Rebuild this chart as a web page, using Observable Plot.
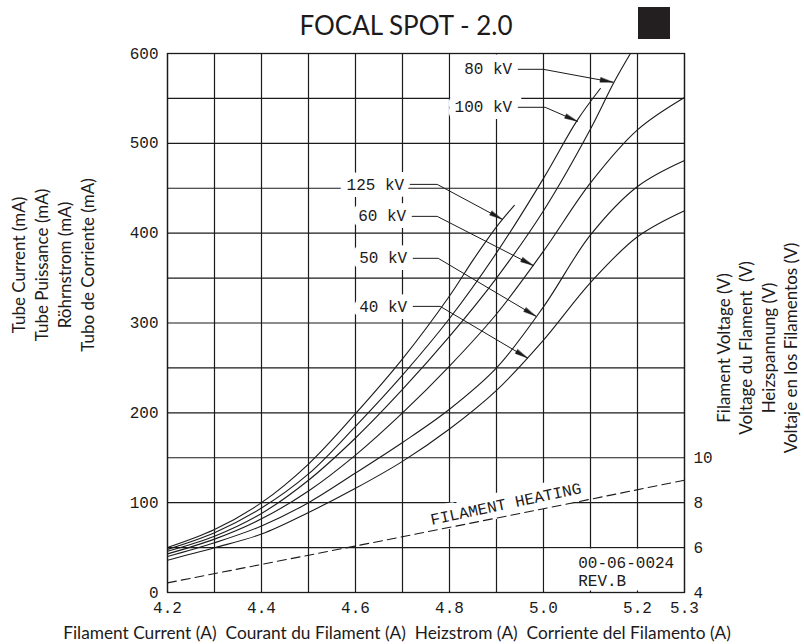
<!DOCTYPE html>
<html><head><meta charset="utf-8">
<script src="https://cdn.jsdelivr.net/npm/d3@7"></script>
<script src="https://cdn.jsdelivr.net/npm/@observablehq/plot@0.6"></script>
<style>
html,body{margin:0;padding:0;background:#fff;}
#wrap{position:relative;width:804px;height:644px;overflow:hidden;}
#wrap svg text{white-space:pre;}
#badge{position:absolute;left:638px;top:7px;width:32px;height:32px;background:#231f20;z-index:2;}
</style></head><body><div id="wrap"><div id="badge"></div></div>
<script>
// ---------- data ----------
const seriesNames = ["125 kV", "100 kV", "80 kV", "60 kV", "50 kV", "40 kV"];
const current125 = [4.2, 4.3, 4.4, 4.5, 4.6, 4.7, 4.8, 4.85, 4.9, 4.938];
const tube125    = [50, 70, 100, 143, 199, 260, 330, 370, 407, 431];
const current100 = [4.2, 4.3, 4.4, 4.5, 4.6, 4.7, 4.8, 4.9, 5.0, 5.071, 5.121];
const tube100    = [48, 66.5, 94, 132, 185, 242, 305, 378, 461, 525, 561];
const current80  = [4.2, 4.3, 4.4, 4.5, 4.6, 4.7, 4.8, 4.9, 5.0, 5.1, 5.15, 5.185];
const tube80     = [46, 62.7, 88, 125, 172, 226, 285, 350, 425, 516, 568, 600];
const current60  = [4.2, 4.3, 4.4, 4.5, 4.6, 4.7, 4.8, 4.9, 5.0, 5.1, 5.2, 5.3];
const tube60     = [43, 59.4, 82, 113, 153, 200, 252, 310, 380, 456, 515, 551];
const current50  = [4.2, 4.3, 4.4, 4.5, 4.6, 4.7, 4.8, 4.9, 5.0, 5.1, 5.2, 5.3];
const tube50     = [40, 55.3, 74, 100, 133, 167, 204, 250, 318, 398, 452, 481];
const current40  = [4.2, 4.3, 4.4, 4.5, 4.6, 4.7, 4.8, 4.9, 5.0, 5.1, 5.2, 5.3];
const tube40     = [36, 49.8, 65, 89, 116, 146, 182, 225, 281, 345, 396, 425];

const filamentCurrent = [4.2, 4.6, 5.0, 5.3];
const filamentVoltage = [4.43, 6.07, 7.73, 9.0];

// leader annotations (label -> curve)
const leaderLabel  = ["125 kV", "60 kV", "50 kV", "40 kV", "80 kV", "100 kV"];
const leaderStartX = [4.7164, 4.7206, 4.7228, 4.7228, 4.9462, 4.9462];
const leaderElbowX = [4.7738, 4.7738, 4.776, 4.7802, 4.9994, 5.0036];
const leaderY      = [454.3, 418.7, 372.0, 318.5, 582.4, 540.1];
const leaderTipX   = [4.912, 4.978, 4.984, 4.966, 5.148, 5.072];
const leaderTipY   = [415.5, 364, 307.5, 261, 568, 524.5];

// blank areas in the grid
const maskX1 = [4.8, 5.0];
const maskX2 = [4.957, 5.3];
const maskY1 = [525, 0];
const maskY2 = [600, 50];

const noteText = ["FILAMENT HEATING", "00-06-0024", "REV.B"];
const noteX    = [4.92, 5.0738, 5.0738];
const noteY    = [98.5, 32.6, 13.4];

const xGrid  = [4.2, 4.3, 4.4, 4.5, 4.6, 4.7, 4.8, 4.9, 5.0, 5.1, 5.2, 5.3];
const yGrid  = [0, 50, 100, 150, 200, 250, 300, 350, 400, 450, 500, 550, 600];
const xTicks = [4.2, 4.4, 4.6, 4.8, 5.0, 5.2, 5.3];
const yTicks = [0, 100, 200, 300, 400, 500, 600];
const voltTicks = [4, 6, 8, 10];

const titleText = "FOCAL SPOT - 2.0";
const leftTitles = ["Tube Current (mA)", "Tube Puissance (mA)", "Röhrnstrom (mA)", "Tubo de Corriente (mA)"];
const rightTitles = ["Filament Voltage (V)", "Voltage du Flament  (V)", "Heizspannung (V)", "Voltaje en los Filamentos (V)"];
const bottomTitle = "Filament Current (A)  Courant du Filament (A)  Heizstrom (A)  Corriente del Filamento (A)";

// ---------- layout ----------
const W = 804, H = 644, ML = 167, MR = 120, MT = 53, MB = 52;
const kx = (W - ML - MR) / (5.3 - 4.2), ky = (H - MT - MB) / 600;
const mA = v => (v - 4) * 25; // right-axis volts to left-axis position
const ink = "#1c1a1b";
const mono = "Liberation Mono, DejaVu Sans Mono, monospace";
const sans = "Lato, Open Sans, sans-serif";

// ---------- tables ----------
const currents = [current125, current100, current80, current60, current50, current40];
const tubes = [tube125, tube100, tube80, tube60, tube50, tube40];
const curveRows = [];
seriesNames.forEach((s, i) => currents[i].forEach((c, j) => curveRows.push({series: s, current: c, tube: tubes[i][j]})));
const filamentRows = filamentCurrent.map((c, i) => ({current: c, voltage: filamentVoltage[i]}));
const leaderRows = [];
leaderLabel.forEach((l, i) => {
  leaderRows.push({label: l, x: leaderStartX[i], y: leaderY[i]});
  leaderRows.push({label: l, x: leaderElbowX[i], y: leaderY[i]});
  leaderRows.push({label: l, x: leaderTipX[i], y: leaderTipY[i]});
});
const arrowRows = leaderLabel.map((l, i) => ({
  x: leaderTipX[i], y: leaderTipY[i],
  angle: Math.atan2((leaderTipX[i] - leaderElbowX[i]) * kx, (leaderTipY[i] - leaderY[i]) * ky) * 180 / Math.PI
}));
const labelRows = leaderLabel.map((l, i) => ({label: l, x: leaderStartX[i], y: leaderY[i]}));
const maskRows = maskX1.map((x1, i) => ({x1, x2: maskX2[i], y1: maskY1[i], y2: maskY2[i]}));
const noteRows = noteText.map((t, i) => ({text: t, x: noteX[i], y: noteY[i]}));

const headShape = {
  draw(ctx, l, r) { ctx.moveTo(0, -l); ctx.lineTo(r, 0); ctx.lineTo(-r, 0); ctx.closePath(); }
};

const titleMarks = [
  Plot.text([titleText], {text: d => d, frameAnchor: "top", dx: -20, dy: -19, lineAnchor: "bottom",
    textAnchor: "middle", fontFamily: sans, fontSize: 26, fill: ink}),
  ...leftTitles.map((t, i) => Plot.text([t], {text: d => d, frameAnchor: "left", dx: -148 + i * 23, dy: -58,
    rotate: -90, textAnchor: "middle", lineAnchor: "middle", fontFamily: sans, fontSize: 17, fill: ink})),
  ...rightTitles.map((t, i) => Plot.text([t], {text: d => d, frameAnchor: "right", dx: 40 + i * 22.5, dy: 25,
    rotate: -90, textAnchor: "middle", lineAnchor: "middle", fontFamily: sans, fontSize: 17, fill: ink})),
  Plot.text([bottomTitle], {text: d => d, frameAnchor: "bottom", dx: -29, dy: 41, textAnchor: "middle",
    lineAnchor: "middle", fontFamily: sans, fontSize: 17.3, fill: ink})
];

const plot = Plot.plot({
  width: W, height: H,
  marginLeft: ML, marginRight: MR, marginTop: MT, marginBottom: MB,
  style: {fontFamily: mono, fontSize: "16px", color: ink, background: "white", overflow: "visible"},
  x: {domain: [4.2, 5.3]},
  y: {domain: [0, 600]},
  marks: [
    Plot.ruleX(xGrid, {stroke: ink, strokeWidth: 1.2}),
    Plot.ruleY(yGrid, {stroke: ink, strokeWidth: 1.2}),
    Plot.rect(maskRows, {x1: "x1", x2: "x2", y1: "y1", y2: "y2", fill: "white", inset: 1.5}),
    Plot.frame({stroke: ink, strokeWidth: 1.3}),
    Plot.text(labelRows, {x: "x", y: "y", text: "label", textAnchor: "end", dx: -6, fontFamily: mono, fontSize: 16,
      fill: ink, stroke: "white", strokeWidth: 14, paintOrder: "stroke"}),
    Plot.text(noteRows.slice(0, 1), {x: "x", y: "y", text: "text", rotate: -12, fontFamily: mono, fontSize: 16,
      fill: ink, stroke: "white", strokeWidth: 15, paintOrder: "stroke"}),
    Plot.text(noteRows.slice(1), {x: "x", y: "y", text: "text", textAnchor: "start", fontFamily: mono, fontSize: 16, fill: ink}),
    Plot.line(filamentRows, {x: "current", y: d => mA(d.voltage), stroke: ink, strokeWidth: 1.1, strokeDasharray: "9,5"}),
    Plot.line(curveRows, {x: "current", y: "tube", z: "series", curve: "catmull-rom", stroke: ink, strokeWidth: 1.1}),
    Plot.line(leaderRows, {x: "x", y: "y", z: "label", stroke: ink, strokeWidth: 1}),
    Plot.vector(arrowRows, {x: "x", y: "y", rotate: "angle", length: 13, r: 2.3, anchor: "end", shape: headShape,
      fill: ink, stroke: ink, strokeWidth: 0.4}),
    Plot.axisX({ticks: xTicks, tickFormat: d3.format(".1f"), tickSize: 0, tickPadding: 9, label: null,
      fontFamily: mono, fontSize: 16, fill: ink}),
    Plot.axisY({ticks: yTicks, tickSize: 0, tickPadding: 9, label: null, fontFamily: mono, fontSize: 16, fill: ink}),
    Plot.axisY({anchor: "right", ticks: voltTicks.map(mA), tickFormat: d => String(d / 25 + 4), tickSize: 0,
      tickPadding: 9, label: null, fontFamily: mono, fontSize: 16, fill: ink}),
    ...titleMarks
  ]
});
document.getElementById("wrap").prepend(plot);
</script>
</body></html>
